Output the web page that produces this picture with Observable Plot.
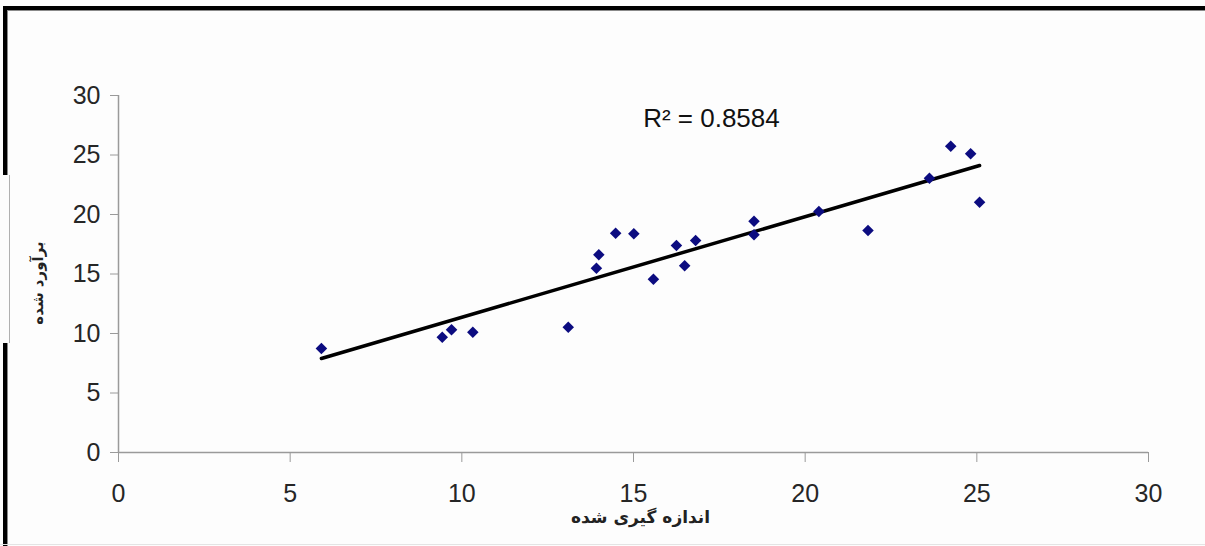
<!DOCTYPE html>
<html>
<head>
<meta charset="utf-8">
<script src="https://cdn.jsdelivr.net/npm/d3@7"></script>
<script src="https://cdn.jsdelivr.net/npm/@observablehq/plot@0.6"></script>
<style>
  html, body { margin: 0; padding: 0; background: #fdfdfd; }
  #wrap { position: relative; width: 1205px; height: 546px; overflow: hidden; background: #fdfdfd; }
  #chart { position: absolute; left: 0; top: 0; }
  .b { position: absolute; }
</style>
</head>
<body>
<div id="wrap">
  <div id="chart"></div>
  <div class="b" style="left:3px;top:6px;width:1202px;height:4px;background:#000"></div>
  <div class="b" style="left:7px;top:10px;width:1198px;height:1px;background:#8a8a8a"></div>
  <div class="b" style="left:3px;top:6px;width:4px;height:169px;background:#000"></div>
  <div class="b" style="left:7px;top:10px;width:1px;height:165px;background:#8a8a8a"></div>
  <div class="b" style="left:9px;top:175px;width:1px;height:168px;background:#b0b0b0"></div>
  <div class="b" style="left:3px;top:343px;width:4px;height:203px;background:#000"></div>
  <div class="b" style="left:7px;top:343px;width:1px;height:203px;background:#8a8a8a"></div>
  <div class="b" style="left:0;top:544px;width:1205px;height:1px;background:#e4e4e4"></div>
</div>
<script>
// measured (x) vs estimated (y) values
const measured = [5.91, 9.43, 9.70, 10.32, 13.10, 14.48, 15.01, 13.99, 13.92, 15.58, 16.25, 16.49, 16.81, 18.51, 18.51, 20.40, 24.24, 24.82, 23.62, 21.83, 25.08];
const estimated = [8.74, 9.69, 10.31, 10.11, 10.53, 18.43, 18.38, 16.61, 15.49, 14.56, 17.39, 15.69, 17.82, 19.44, 18.29, 20.25, 25.74, 25.10, 23.05, 18.66, 21.03];
const xTicks = [0, 5, 10, 15, 20, 25, 30];
const yTicks = [0, 5, 10, 15, 20, 25, 30];
const xTitle = "اندازه گیری شده";
const yTitle = "برآورد شده";
const r2Label = "R² = 0.8584";
const r2Anchor = [17.27, 28.07];

const data = measured.map((m, i) => ({m, e: estimated[i]}));

const chart = Plot.plot({
  width: 1205,
  height: 546,
  marginLeft: 118,
  marginRight: 57,
  marginTop: 95,
  marginBottom: 94,
  style: {fontFamily: "'Liberation Sans', Arial, sans-serif", fontSize: "25px", background: "transparent", color: "#222"},
  x: {domain: [0, 30], label: null},
  y: {domain: [0, 30], label: null},
  marks: [
    Plot.ruleY([0], {stroke: "#9a9a9a", strokeWidth: 1.5}),
    Plot.ruleX([0], {stroke: "#9a9a9a", strokeWidth: 1.5}),
    Plot.axisX({ticks: xTicks, tickSize: 10, tickPadding: 22, stroke: "#9a9a9a", fill: "#262626", label: null}),
    Plot.axisY({ticks: yTicks, tickSize: 8, tickPadding: 10, stroke: "#9a9a9a", fill: "#262626", label: null}),
    Plot.linearRegressionY(data, {x: "m", y: "e", stroke: "#000", strokeWidth: 3.5, ci: 0}),
    Plot.dot(data, {x: "m", y: "e", symbol: "diamond2", r: 5.2, fill: "#0c0c80", stroke: "none"}),
    Plot.text([r2Label], {x: () => r2Anchor[0], y: () => r2Anchor[1], text: d => d, fontSize: 26, fill: "#111", textAnchor: "middle"}),
    Plot.text([xTitle], {frameAnchor: "bottom", text: d => d, dy: 70, dx: 7, textAnchor: "middle", fontFamily: "'DejaVu Sans', sans-serif", fontWeight: "bold", fontSize: 17, fill: "#222"}),
    Plot.text([yTitle], {frameAnchor: "left", text: d => d, dx: -80, dy: 9, textAnchor: "middle", rotate: -90, fontFamily: "'DejaVu Sans', sans-serif", fontWeight: "bold", fontSize: 15, fill: "#222"})
  ]
});
document.getElementById("chart").appendChild(chart);
</script>
</body>
</html>
